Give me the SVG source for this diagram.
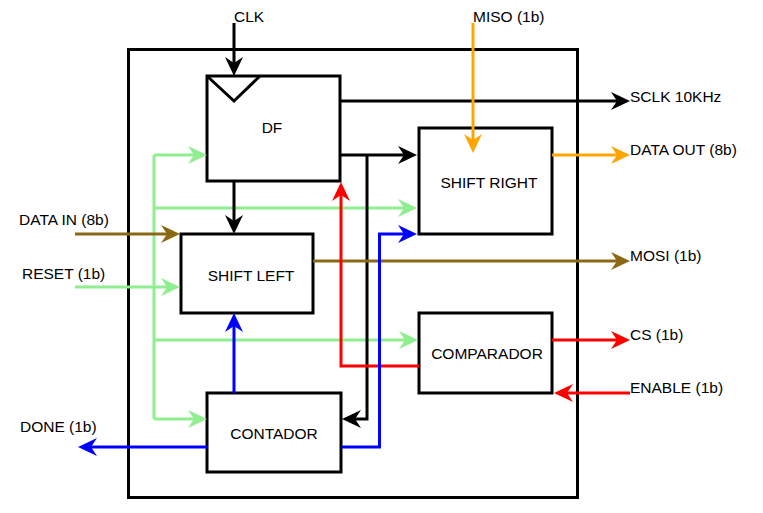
<svg xmlns="http://www.w3.org/2000/svg" width="763" height="513" viewBox="0 0 763 513">
<style>
text{font-family:"Liberation Sans",Arial,sans-serif;font-size:15.5px;fill:#000}
.box{fill:#fff;stroke:#000;stroke-width:3}
.c{fill:none;stroke-width:3}
.k{stroke:#000}.g{stroke:#90EE90}.b{stroke:#0000FF}.r{stroke:#FF0000}.o{stroke:#FFA500}.n{stroke:#8B6914}
</style>
<defs>
<marker id="mk" viewBox="-12 -10 21 20" refX="0" refY="0" markerWidth="21" markerHeight="20" orient="auto" markerUnits="userSpaceOnUse"><path d="M8,0 L-11,-9 L-5,0 L-11,9 Z" fill="#000"/></marker>
<marker id="mg" viewBox="-12 -10 21 20" refX="0" refY="0" markerWidth="21" markerHeight="20" orient="auto" markerUnits="userSpaceOnUse"><path d="M8,0 L-11,-9 L-5,0 L-11,9 Z" fill="#90EE90"/></marker>
<marker id="mb" viewBox="-12 -10 21 20" refX="0" refY="0" markerWidth="21" markerHeight="20" orient="auto" markerUnits="userSpaceOnUse"><path d="M8,0 L-11,-9 L-5,0 L-11,9 Z" fill="#0000FF"/></marker>
<marker id="mr" viewBox="-12 -10 21 20" refX="0" refY="0" markerWidth="21" markerHeight="20" orient="auto" markerUnits="userSpaceOnUse"><path d="M8,0 L-11,-9 L-5,0 L-11,9 Z" fill="#FF0000"/></marker>
<marker id="mo" viewBox="-12 -10 21 20" refX="0" refY="0" markerWidth="21" markerHeight="20" orient="auto" markerUnits="userSpaceOnUse"><path d="M8,0 L-11,-9 L-5,0 L-11,9 Z" fill="#FFA500"/></marker>
<marker id="mn" viewBox="-12 -10 21 20" refX="0" refY="0" markerWidth="21" markerHeight="20" orient="auto" markerUnits="userSpaceOnUse"><path d="M8,0 L-11,-9 L-5,0 L-11,9 Z" fill="#8B6914"/></marker>
</defs>
<rect width="763" height="513" fill="#fff"/>
<g id="outer"><rect x="128.5" y="49.5" width="449" height="448" fill="none" stroke="#000" stroke-width="3"/></g>

<g id="df"><rect class="box" x="207" y="76" width="133" height="105"/><path d="M207,76 L234,101 L260,76" fill="none" stroke="#000" stroke-width="3"/><text x="272" y="133" text-anchor="middle">DF</text></g>
<g id="shift-left"><rect class="box" x="181" y="234" width="132" height="79"/><text x="251" y="281" text-anchor="middle">SHIFT LEFT</text></g>
<g id="shift-right"><rect class="box" x="419" y="128" width="133" height="106"/><text x="489" y="188" text-anchor="middle">SHIFT RIGHT</text></g>
<g id="comparador"><rect class="box" x="419" y="313" width="133" height="80"/><text x="487" y="359" text-anchor="middle">COMPARADOR</text></g>
<g id="contador"><rect class="box" x="207" y="393" width="134" height="79"/><text x="274" y="439" text-anchor="middle">CONTADOR</text></g>

<g id="connectors">
<path class="c g" d="M154,155 V419"/>
<path class="c g" d="M154,155 H199" marker-end="url(#mg)"/>
<path class="c g" d="M154,208 H409" marker-end="url(#mg)"/>
<path class="c g" d="M75,287 H172" marker-end="url(#mg)"/>
<path class="c g" d="M154,340 H410" marker-end="url(#mg)"/>
<path class="c g" d="M154,419 H199" marker-end="url(#mg)"/>
<path class="c k" d="M234,23 V68" marker-end="url(#mk)"/>
<path class="c k" d="M340,101 H622" marker-end="url(#mk)"/>
<path class="c k" d="M340,155 H409" marker-end="url(#mk)"/>
<path class="c k" d="M367,155 V419 H350" marker-end="url(#mk)"/>
<path class="c k" d="M234,181 V226" marker-end="url(#mk)"/>
<path class="c n" d="M75,234 H172" marker-end="url(#mn)"/>
<path class="c n" d="M313,261 H622" marker-end="url(#mn)"/>
<path class="c o" d="M473,23 V145" marker-end="url(#mo)"/>
<path class="c o" d="M552,155 H622" marker-end="url(#mo)"/>
<path class="c r" d="M552,340 H622" marker-end="url(#mr)"/>
<path class="c r" d="M630,393 H562" marker-end="url(#mr)"/>
<path class="c r" d="M419,366 H341 V190" marker-end="url(#mr)"/>
<path class="c b" d="M234,393 V321" marker-end="url(#mb)"/>
<path class="c b" d="M207,447 H86" marker-end="url(#mb)"/>
<path class="c b" d="M341,447 H379.5 V234 H409" marker-end="url(#mb)"/>
</g>

<g id="labels">
<text x="234" y="22">CLK</text>
<text x="473" y="22">MISO (1b)</text>
<text x="630" y="102">SCLK 10KHz</text>
<text x="630" y="155">DATA OUT (8b)</text>
<text x="630" y="261">MOSI (1b)</text>
<text x="630" y="340">CS (1b)</text>
<text x="630" y="393">ENABLE (1b)</text>
<text x="19" y="225">DATA IN (8b)</text>
<text x="22" y="279">RESET (1b)</text>
<text x="20" y="432">DONE (1b)</text>
</g>
</svg>
